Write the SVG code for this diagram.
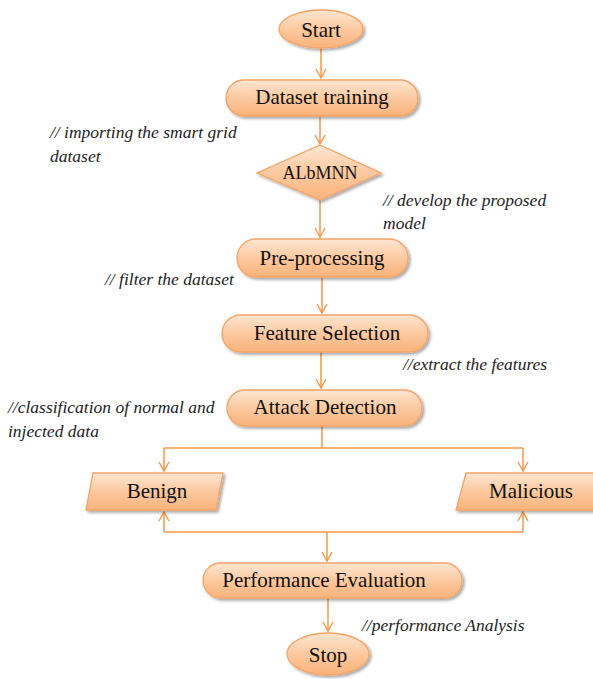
<svg xmlns="http://www.w3.org/2000/svg" width="593" height="679" viewBox="0 0 593 679">
<defs>
<linearGradient id="g" x1="0" y1="0" x2="0" y2="1">
<stop offset="0" stop-color="#fde6d2"/>
<stop offset="0.5" stop-color="#fcc9a0"/>
<stop offset="1" stop-color="#f9b27a"/>
</linearGradient>
<filter id="sh" x="-10%" y="-20%" width="125%" height="150%">
<feGaussianBlur in="SourceAlpha" stdDeviation="1.5"/>
<feOffset dx="1.5" dy="2" result="b"/>
<feComponentTransfer><feFuncA type="linear" slope="0.35"/></feComponentTransfer>
<feMerge><feMergeNode/><feMergeNode in="SourceGraphic"/></feMerge>
</filter>
<marker id="arr" markerWidth="12" markerHeight="12" refX="10" refY="6" orient="auto" markerUnits="userSpaceOnUse">
<path d="M1,1 L10,6 L1,11" fill="none" stroke="#f79646" stroke-width="1.4"/>
</marker>
</defs>
<style>
.n{fill:url(#g);stroke:#f5a467;stroke-width:1.3;filter:url(#sh)}
.t{font-size:21px;fill:#111;text-anchor:middle;dominant-baseline:central}
.c{font-size:17.5px;font-style:italic;fill:#222}
.l{fill:none;stroke:#f79646;stroke-width:1.5}
</style>
<rect width="593" height="679" fill="#fff"/>
<g id="connectors">
<path class="l" d="M321,48 V78" marker-end="url(#arr)"/>
<path class="l" d="M320,116 V144" marker-end="url(#arr)"/>
<path class="l" d="M320,200 V237" marker-end="url(#arr)"/>
<path class="l" d="M322,277 V313" marker-end="url(#arr)"/>
<path class="l" d="M321,352 V388" marker-end="url(#arr)"/>
<path class="l" d="M322,426 V448"/>
<path class="l" d="M164,448 H523"/>
<path class="l" d="M164,448 V471" marker-end="url(#arr)"/>
<path class="l" d="M523,448 V471" marker-end="url(#arr)"/>
<path class="l" d="M164,532 V512" marker-end="url(#arr)"/>
<path class="l" d="M523,532 V512" marker-end="url(#arr)"/>
<path class="l" d="M164,532 H523"/>
<path class="l" d="M327,532 V561" marker-end="url(#arr)"/>
<path class="l" d="M328,598 V631" marker-end="url(#arr)"/>
</g>
<g font-family="Liberation Serif, Times New Roman, DejaVu Serif, serif">
<g id="start"><ellipse class="n" cx="321" cy="29" rx="42" ry="19"/><text class="t" x="321" y="30">Start</text></g>
<g id="dataset"><rect class="n" x="226" y="80" width="192" height="36" rx="18"/><text class="t" x="322" y="97">Dataset training</text></g>
<g id="albmnn"><polygon class="n" points="320,145 381,173 320,200 257,173"/><text class="t" x="320" y="173" style="font-size:18px">ALbMNN</text></g>
<g id="preprocessing"><rect class="n" x="237" y="239" width="171" height="38" rx="19"/><text class="t" x="322" y="258">Pre-processing</text></g>
<g id="feature"><rect class="n" x="222" y="315" width="206" height="37" rx="18.5"/><text class="t" x="327" y="333">Feature Selection</text></g>
<g id="attack"><rect class="n" x="227" y="390" width="195" height="36" rx="18"/><text class="t" x="325" y="407">Attack Detection</text></g>
<g id="benign"><polygon class="n" points="93,473 223,473 216,510 86,510"/><text class="t" x="157" y="491">Benign</text></g>
<g id="malicious"><polygon class="n" points="466,473 600,473 600,510 456,510"/><text class="t" x="531" y="491">Malicious</text></g>
<g id="performance"><rect class="n" x="203" y="563" width="259" height="35" rx="17.5"/><text class="t" x="324" y="580">Performance Evaluation</text></g>
<g id="stop"><ellipse class="n" cx="328" cy="654" rx="41" ry="21"/><text class="t" x="328" y="655">Stop</text></g>
<g id="comments">
<text class="c" x="50" y="138">// importing the smart grid</text>
<text class="c" x="50" y="162">dataset</text>
<text class="c" x="383" y="206">// develop the proposed</text>
<text class="c" x="383" y="229">model</text>
<text class="c" x="105" y="285">// filter the dataset</text>
<text class="c" x="403" y="370">//extract the features</text>
<text class="c" x="8" y="413">//classification of normal and</text>
<text class="c" x="8" y="437">injected data</text>
<text class="c" x="362" y="631">//performance  Analysis</text>
</g>
</g>
</svg>
